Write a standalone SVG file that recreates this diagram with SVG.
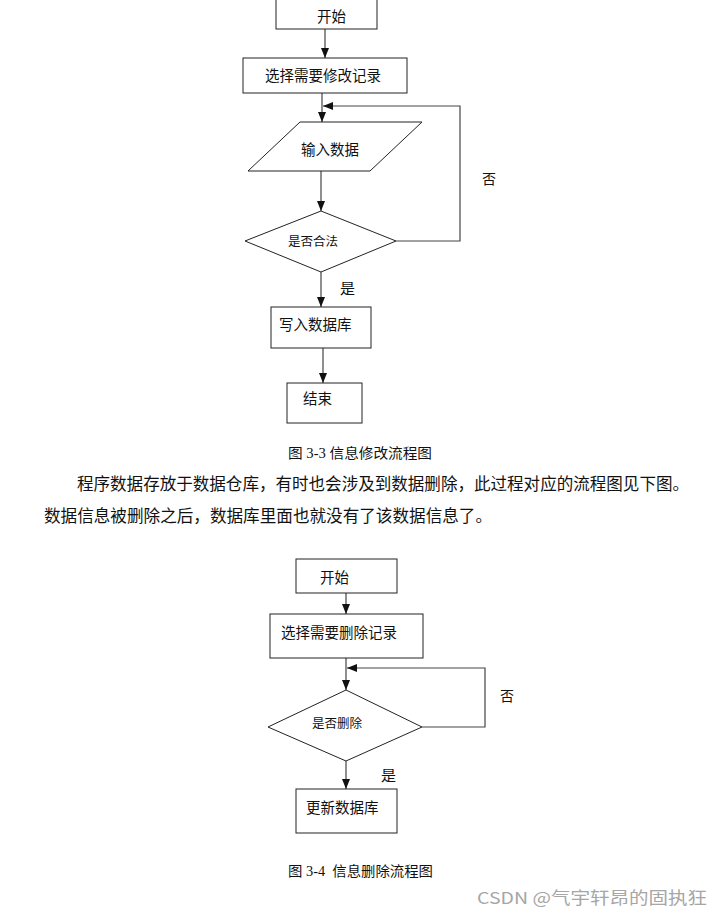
<svg xmlns="http://www.w3.org/2000/svg" width="723" height="917" viewBox="0 0 723 917">
<defs>
<style>
.box{fill:#fff;stroke:#222;stroke-width:1}
.ln{fill:none;stroke:#444;stroke-width:1.2}
.t{font-family:"Noto Sans CJK SC","Noto Sans CJK JP",sans-serif;fill:#111;dominant-baseline:central}
.n{font-size:14.5px}
.d{font-size:12.5px}
.p{font-size:16.5px;font-family:"Noto Sans CJK SC",sans-serif;fill:#111;dominant-baseline:central}
.c{font-size:14px;font-family:"Liberation Serif","Noto Sans CJK SC",serif;fill:#111;dominant-baseline:central}
</style>
<marker id="ah" markerUnits="userSpaceOnUse" markerWidth="10" markerHeight="10" viewBox="0 0 10 10" refX="10" refY="5" orient="auto">
<path d="M0,1 L10,5 L0,9 Z" fill="#111"/>
</marker>
</defs>
<rect width="723" height="917" fill="#fff"/>

<g id="connectors">
<line class="ln" x1="325" y1="29" x2="325" y2="58" marker-end="url(#ah)"/>
<line class="ln" x1="322" y1="93" x2="322" y2="122" marker-end="url(#ah)"/>
<polyline class="ln" points="396,241 460,241 460,106 323,106" marker-end="url(#ah)"/>
<line class="ln" x1="321" y1="171" x2="321" y2="211" marker-end="url(#ah)"/>
<line class="ln" x1="321" y1="272" x2="321" y2="307" marker-end="url(#ah)"/>
<line class="ln" x1="323" y1="348" x2="323" y2="383" marker-end="url(#ah)"/>
<line class="ln" x1="346" y1="593" x2="346" y2="614" marker-end="url(#ah)"/>
<line class="ln" x1="346" y1="658" x2="346" y2="690" marker-end="url(#ah)"/>
<polyline class="ln" points="422,727 485,727 485,668 347,668" marker-end="url(#ah)"/>
<line class="ln" x1="346" y1="761" x2="346" y2="789" marker-end="url(#ah)"/>
<text class="t" x="482" y="178" font-size="14">否</text>
<text class="t" x="340" y="287" font-size="15">是</text>
<text class="t" x="500" y="695" font-size="14">否</text>
<text class="t" x="381" y="774" font-size="15">是</text>
</g>

<g id="start1">
<rect class="box" x="276" y="-1" width="101" height="30"/>
<text class="t n" x="317" y="15" font-size="15">开始</text>
</g>
<g id="select1">
<rect class="box" x="243" y="58" width="164" height="35"/>
<text class="t n" x="265" y="74">选择需要修改记录</text>
</g>
<g id="input1">
<polygon class="box" points="300,122 422,122 370,171 248,171"/>
<text class="t n" x="301" y="148">输入数据</text>
</g>
<g id="valid1">
<polygon class="box" points="321,211 396,241 321,272 245,241"/>
<text class="t d" x="288" y="240">是否合法</text>
</g>
<g id="write1">
<rect class="box" x="271" y="307" width="100" height="41"/>
<text class="t n" x="279" y="323">写入数据库</text>
</g>
<g id="end1">
<rect class="box" x="287" y="383" width="75" height="40"/>
<text class="t n" x="303" y="397" font-size="15">结束</text>
</g>

<text class="c" x="288" y="453" textLength="144" lengthAdjust="spacingAndGlyphs">图 3-3 信息修改流程图</text>
<text class="p" x="77" y="483" textLength="612" lengthAdjust="spacingAndGlyphs">程序数据存放于数据仓库，有时也会涉及到数据删除，此过程对应的流程图见下图。</text>
<text class="p" x="44" y="515" textLength="448" lengthAdjust="spacingAndGlyphs">数据信息被删除之后，数据库里面也就没有了该数据信息了。</text>

<g id="start2">
<rect class="box" x="296" y="559" width="101" height="34"/>
<text class="t n" x="320" y="576" font-size="15">开始</text>
</g>
<g id="select2">
<rect class="box" x="270" y="614" width="153" height="44"/>
<text class="t n" x="281" y="631">选择需要删除记录</text>
</g>
<g id="del2">
<polygon class="box" points="346,690 422,727 346,761 268,727"/>
<text class="t d" x="312" y="722">是否删除</text>
</g>
<g id="update2">
<rect class="box" x="296" y="789" width="101" height="44"/>
<text class="t n" x="306" y="806">更新数据库</text>
</g>

<text class="c" x="288" y="871" textLength="145" lengthAdjust="spacingAndGlyphs" xml:space="preserve">图 3-4  信息删除流程图</text>
<text class="t" x="477" y="897" font-size="16.5" style="fill:#a6a6a6" textLength="230" lengthAdjust="spacingAndGlyphs">CSDN @气宇轩昂的固执狂</text>
</svg>
